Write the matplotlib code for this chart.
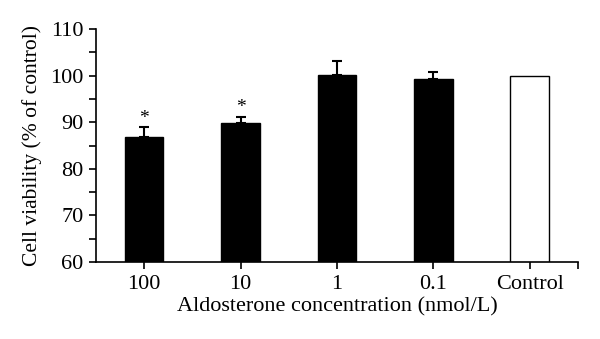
import numpy as np
import matplotlib
matplotlib.use("Agg")
import matplotlib.pyplot as plt
from matplotlib.ticker import MultipleLocator, FixedLocator

# Data
categories = ["100", "10", "1", "0.1", "Control"]
viability = [86.8, 89.8, 100.2, 99.2, 100.0]
errors_up = [2.1, 1.4, 2.9, 1.7, 0.0]
significant = [True, True, False, False, False]
bar_colors = ["black", "black", "black", "black", "white"]

plt.rcParams["font.family"] = ["Liberation Serif", "DejaVu Serif"]

fig = plt.figure(figsize=(6.0, 3.39), dpi=100)
ax = fig.add_axes([0.16, 0.227, 0.803, 0.687])

x = np.arange(len(categories))
ax.bar(x, viability, width=0.4, color=bar_colors, edgecolor="black", linewidth=1.0, zorder=2)

# upper error bars only
has_err = [i for i, e in enumerate(errors_up) if e > 0]
ax.errorbar(x[has_err], np.array(viability)[has_err],
            yerr=[np.zeros(len(has_err)), np.array(errors_up)[has_err]],
            fmt="none", ecolor="black", elinewidth=1.5, capsize=3.6, capthick=1.5, zorder=3)

for i, sig in enumerate(significant):
    if sig:
        ax.text(x[i], viability[i] + errors_up[i] + 0.2, "*", ha="center", va="bottom", fontsize=14)

ax.set_xlim(-0.5, 4.5)
ax.set_ylim(60, 110)
ax.set_xticks(x)
ax.set_xticklabels(categories)
ax.xaxis.set_minor_locator(FixedLocator([4.5]))
ax.yaxis.set_major_locator(MultipleLocator(10))
ax.yaxis.set_minor_locator(MultipleLocator(5))

ax.spines["top"].set_visible(False)
ax.spines["right"].set_visible(False)
for s in ["left", "bottom"]:
    ax.spines[s].set_linewidth(1.2)

ax.tick_params(axis="both", which="major", direction="out", length=5, width=1.2, labelsize=16, pad=4)
ax.tick_params(axis="both", which="minor", direction="out", length=5, width=1.2)

ax.set_xlabel("Aldosterone concentration (nmol/L)", fontsize=16, labelpad=3)
ax.set_ylabel("Cell viability (% of control)", fontsize=15.5, labelpad=6)

fig.savefig("out.png", dpi=100)
